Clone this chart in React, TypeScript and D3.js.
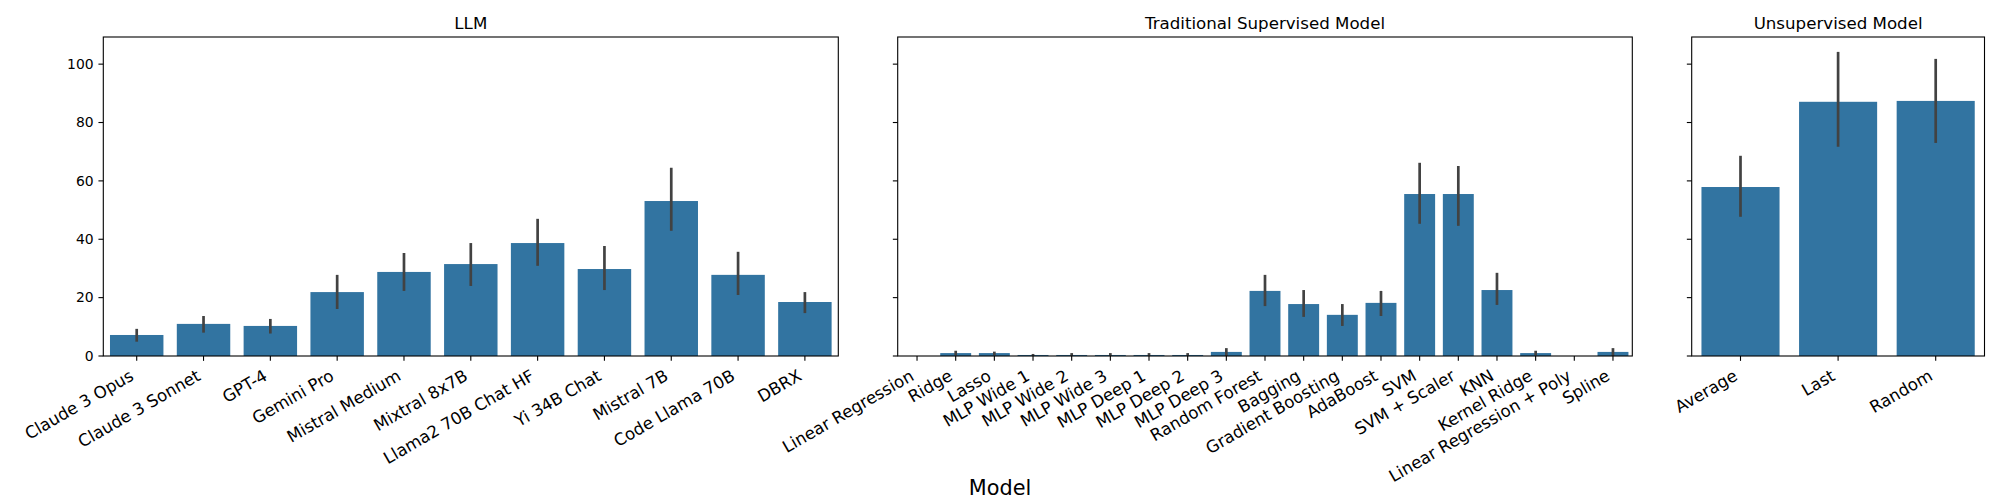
import * as d3 from 'd3';

// LLM panel
const llmModels = [
  'Claude 3 Opus', 'Claude 3 Sonnet', 'GPT-4', 'Gemini Pro', 'Mistral Medium', 'Mixtral 8x7B',
  'Llama2 70B Chat HF', 'Yi 34B Chat', 'Mistral 7B', 'Code Llama 70B', 'DBRX',
];
const llmMean = [7.2, 11.0, 10.3, 21.9, 28.8, 31.5, 38.7, 29.8, 53.1, 27.8, 18.5];
const llmLow = [4.9, 8.0, 7.7, 16.1, 22.3, 24.0, 30.9, 22.6, 42.9, 20.9, 14.7];
const llmHigh = [9.3, 13.7, 12.7, 27.8, 35.3, 38.7, 47.0, 37.7, 64.5, 35.7, 21.9];

// Traditional supervised panel
const tradModels = [
  'Linear Regression', 'Ridge', 'Lasso', 'MLP Wide 1', 'MLP Wide 2', 'MLP Wide 3', 'MLP Deep 1',
  'MLP Deep 2', 'MLP Deep 3', 'Random Forest', 'Bagging', 'Gradient Boosting', 'AdaBoost', 'SVM',
  'SVM + Scaler', 'KNN', 'Kernel Ridge', 'Linear Regression + Poly', 'Spline',
];
const tradMean = [0, 1.0, 1.0, 0.35, 0.35, 0.35, 0.35, 0.35, 1.4, 22.3, 17.8, 14.1, 18.2, 55.5, 55.5, 22.6, 1.0, 0, 1.4];
const tradLow = [0, 0.2, 0.2, 0, 0, 0, 0, 0, 0, 17.1, 13.4, 10.3, 13.7, 45.3, 44.6, 17.5, 0.2, 0, 0];
const tradHigh = [0, 1.8, 1.5, 0.7, 1.0, 1.0, 1.0, 1.0, 2.7, 27.8, 22.6, 17.8, 22.3, 66.2, 65.1, 28.5, 1.8, 0, 2.7];

// Unsupervised panel
const unsupModels = ['Average', 'Last', 'Random'];
const unsupMean = [57.9, 87.1, 87.4];
const unsupLow = [47.7, 71.7, 73.0];
const unsupHigh = [68.6, 104.2, 101.8];

const yTicks = [0, 20, 40, 60, 80, 100];

const W = 2000;
const H = 500;
const top = 37;
const bottom = 356;
const font = 'DejaVu Sans';
const barColor = '#3274a1';
const errColor = '#424242';

interface PanelProps {
  title: string;
  models: string[];
  mean: number[];
  low: number[];
  high: number[];
  x0: number;
  x1: number;
  showYLabels: boolean;
}

const y = d3.scaleLinear().domain([0, 109.3]).range([bottom, top]);

function Panel({ title, models, mean, low, high, x0, x1, showYLabels }: PanelProps) {
  const x = d3.scaleBand<string>().domain(models).range([x0, x1]).paddingInner(0.2).paddingOuter(0.1);
  const fs = 16.67;
  const h = fs * 1.164;
  const d = fs * 0.236;
  const labelTop = bottom + 4.86 + 4.86;
  return (
    <g>
      {models.map((m, i) => (
        <rect key={m} x={x(m)!} y={y(mean[i])} width={x.bandwidth()} height={bottom - y(mean[i])} fill={barColor} />
      ))}
      {models.map((m, i) =>
        high[i] > 0 ? (
          <line
            key={m}
            x1={x(m)! + x.bandwidth() / 2}
            x2={x(m)! + x.bandwidth() / 2}
            y1={y(low[i])}
            y2={y(high[i])}
            stroke={errColor}
            strokeWidth={2.7}
          />
        ) : null
      )}
      <rect x={x0} y={top} width={x1 - x0} height={bottom - top} fill="none" stroke="#000" strokeWidth={1.1} />
      {yTicks.map((t) => (
        <g key={t}>
          <line x1={x0 - 4.86} x2={x0} y1={y(t)} y2={y(t)} stroke="#000" strokeWidth={1.1} />
          {showYLabels && (
            <text x={x0 - 9.7} y={y(t)} dy="0.35em" textAnchor="end" fontSize={13.9} fontFamily={font}>
              {t}
            </text>
          )}
        </g>
      ))}
      {models.map((m) => {
        const cx = x(m)! + x.bandwidth() / 2;
        const bx = cx - d * 0.5;
        const by = labelTop + (h - d) * 0.866;
        return (
          <g key={m}>
            <line x1={cx} x2={cx} y1={bottom} y2={bottom + 4.86} stroke="#000" strokeWidth={1.1} />
            <text transform={`translate(${bx},${by}) rotate(-30)`} textAnchor="end" fontSize={fs} fontFamily={font}>
              {m}
            </text>
          </g>
        );
      })}
      <text x={(x0 + x1) / 2} y={29} textAnchor="middle" fontSize={16.67} fontFamily={font}>
        {title}
      </text>
    </g>
  );
}

export default function App() {
  return (
    <svg width={W} height={H} style={{ display: 'block', position: 'absolute', left: 0, top: 0, background: '#fff' }}>
      <rect width={W} height={H} fill="#fff" />
      <Panel title="LLM" models={llmModels} mean={llmMean} low={llmLow} high={llmHigh} x0={103.3} x1={838.3} showYLabels />
      <Panel
        title="Traditional Supervised Model"
        models={tradModels}
        mean={tradMean}
        low={tradLow}
        high={tradHigh}
        x0={897.7}
        x1={1632.3}
        showYLabels={false}
      />
      <Panel
        title="Unsupervised Model"
        models={unsupModels}
        mean={unsupMean}
        low={unsupLow}
        high={unsupHigh}
        x0={1691.7}
        x1={1984.5}
        showYLabels={false}
      />
      <text x={1000} y={495} textAnchor="middle" fontSize={20.8} fontFamily={font}>
        Model
      </text>
    </svg>
  );
}
